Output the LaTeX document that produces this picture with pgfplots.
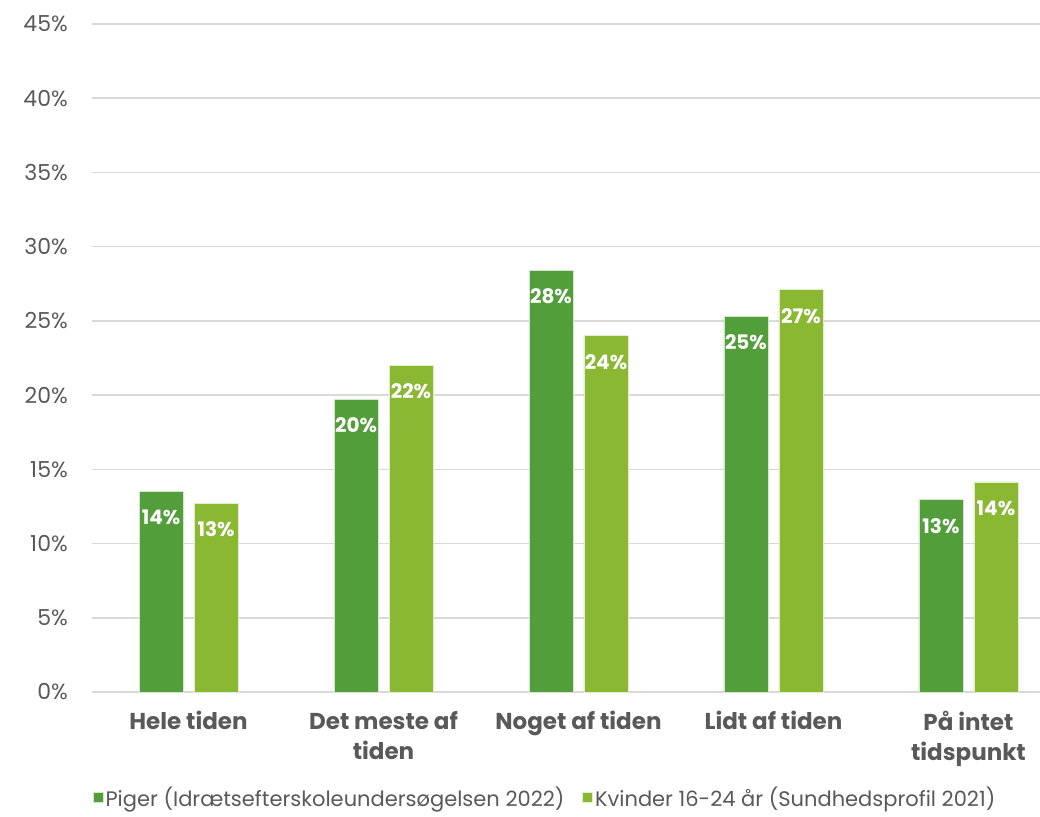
\documentclass[border=0pt]{standalone}
\usepackage{pgfplots}
\pgfplotsset{compat=1.18}
\usepackage{fontspec}
\setmainfont{Poppins}
\definecolor{dg}{HTML}{529E3A}
\definecolor{lg}{HTML}{8BB833}
\definecolor{txt}{HTML}{595959}
\definecolor{gridc}{HTML}{D9D9D9}
\begin{document}
\begin{tikzpicture}[x=1pt,y=1pt]
\useasboundingbox (0,0) rectangle (1040,816);
\begin{axis}[
  at={(92pt,124pt)}, anchor=south west,
  scale only axis, width=948pt, height=668pt,
  xmin=-0.495, xmax=4.367, ymin=0, ymax=45,
  axis line style={draw=none},
  ymajorgrids, grid style={gridc, line width=1.6pt},
  major tick length=0pt,
  ytick={0,5,...,45},
  yticklabel={\pgfmathprintnumber{\tick}\%},
  /pgf/number format/assume math mode=true,
  yticklabel style={font=\fontsize{22}{26}\selectfont, text=txt, inner sep=0pt, xshift=-24pt},
  xtick={0,1,2,3,4},
  xticklabels={Hele tiden,{Det meste af\\tiden},Noget af tiden,Lidt af tiden,{På intet\\tidspunkt}},
  xticklabel style={font=\fontsize{23}{30}\selectfont\bfseries, text=txt, align=center, inner sep=0pt, anchor=north, yshift=-19pt},
  ybar, bar width=0.2256,
  point meta=explicit symbolic,
  nodes near coords={\pgfplotspointmeta\%},
  every node near coord/.append style={font=\fontsize{20}{22}\selectfont\bfseries, text=white, anchor=center, yshift=-26pt},
  legend style={at={(0.478,-0.158)}, anchor=center, draw=none, inner sep=0pt, legend columns=2, font=\fontsize{21}{24}\selectfont, text=txt, /tikz/every even column/.append style={column sep=16pt}},
  legend image code/.code={\fill[#1] (0pt,-5pt) rectangle (10pt,5pt);},
  legend cell align=left,
]
\addplot[fill=dg, draw=white!75!dg, line width=0.6pt, bar shift=-0.141] coordinates {
  (0,13.5) [14] (1,19.7) [20] (2,28.4) [28] (3,25.3) [25] (4,12.95) [13]
};
\addplot[fill=lg, draw=white!75!lg, line width=0.6pt, bar shift=0.141] coordinates {
  (0,12.7) [13] (1,22.0) [22] (2,24.0) [24] (3,27.1) [27] (4,14.15) [14]
};
\legend{Piger (Idrætsefterskoleundersøgelsen 2022), Kvinder 16-24 år (Sundhedsprofil 2021)}
\end{axis}
\end{tikzpicture}
\end{document}
